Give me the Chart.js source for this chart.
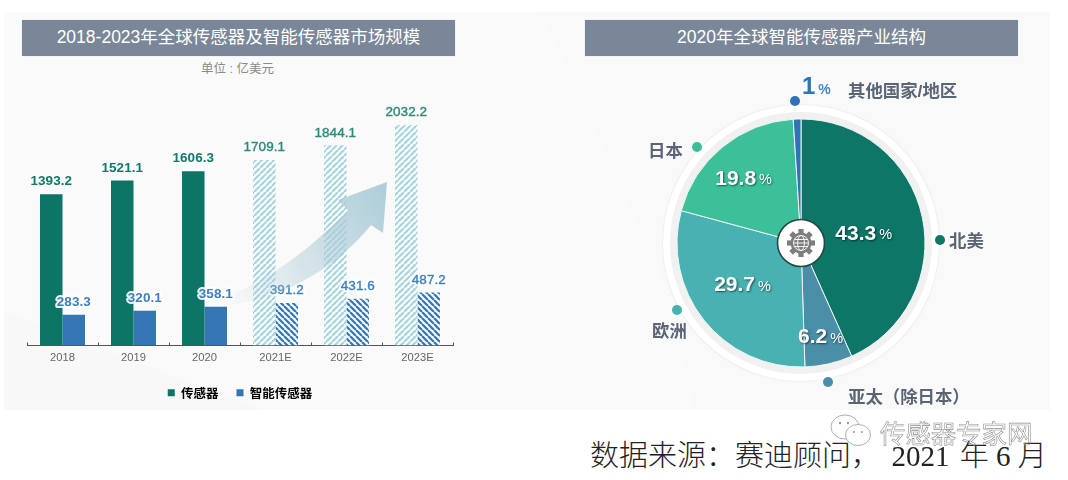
<!DOCTYPE html>
<html lang="zh">
<head>
<meta charset="utf-8">
<title>全球传感器及智能传感器市场</title>
<script src="https://cdn.jsdelivr.net/npm/chart.js@4/dist/chart.umd.min.js"></script>
<style>
  html, body { margin: 0; padding: 0; background: #fff; }
  body { width: 1068px; height: 480px; position: relative; overflow: hidden; font-family: "Liberation Sans", "Noto Sans CJK SC", sans-serif; }
  .abs { position: absolute; }
  #panel { left: 4px; top: 12px; width: 1046px; height: 398px; }
  .titleBar { top: 20px; width: 433px; height: 36px; line-height: 35px; background: #7a8798; color: #fff; text-align: center; font-size: 17.5px; box-shadow: 0 0 1px #c9cedb; }
  #unit { left: 201px; top: 58px; font-size: 12.5px; color: #8a8a8a; white-space: pre; }
  #barCanvas { left: 2px; top: 60px; }
  #arrow { left: 0; top: 0; pointer-events: none; }
  #rings { left: 663px; top: 105px; width: 276px; height: 276px; box-sizing: border-box; border-radius: 50%; background: #f1f1f1; border: 7px solid #fff; box-shadow: 0 0 2px #ddd; }
  #pieCanvas { left: 641px; top: 83px; }
  #hub { left: 776px; top: 218px; }
  .dot { width: 10px; height: 10px; border-radius: 50%; }
  .place { font-size: 17.4px; font-weight: 700; color: #5b6575; white-space: pre; line-height: 20px; }
  #otherShare { left: 802px; top: 71px; font-size: 24px; font-weight: 700; color: #2f74b8; line-height: 30px; white-space: pre; }
  #otherShare small { font-size: 14px; margin-left: 3px; color: #4a86c0; }
  #source { left: 590px; top: 437px; font-family: "Liberation Serif", "Noto Sans CJK SC", serif; font-size: 29px; font-weight: 300; line-height: 38px; color: #222; white-space: pre; }
  #source span { position: relative; left: -3px; }
  #mark { left: 880px; top: 416px; font-size: 25.4px; line-height: 32px; color: transparent; -webkit-text-stroke: 0.6px #8f8f8f; font-family: "Noto Sans CJK SC", sans-serif; white-space: pre; }
  #wechat { left: 826px; top: 412px; }
</style>
</head>
<body>

<svg id="panel" class="abs" viewBox="0 0 1046 398">
  <rect width="1046" height="398" fill="#fafafa"/>
  <polygon points="536,0 1046,0 1046,398 690,398 664,280 570,70" fill="#f9f9f9"/>
  <polygon points="0,300 260,398 0,398" fill="#f8f8f8"/>
</svg>

<div class="abs titleBar" style="left:22px">2018-2023年全球传感器及智能传感器市场规模</div>
<div id="unit" class="abs">单位 : 亿美元</div>
<canvas id="barCanvas" class="abs" width="480" height="349"></canvas>

<svg id="arrow" class="abs" width="480" height="410">
  <defs>
    <linearGradient id="arrowFill" x1="228" y1="305" x2="387" y2="195" gradientUnits="userSpaceOnUse">
      <stop offset="0" stop-color="#b0ced8" stop-opacity="0"/>
      <stop offset="0.45" stop-color="#afcdd8" stop-opacity="0.5"/>
      <stop offset="1" stop-color="#a9ccd7" stop-opacity="0.95"/>
    </linearGradient>
  </defs>
  <path d="M226 297 C265 282 310 250 348 210 L338 200 L387 182 L383 233 L371 225 C345 258 290 300 226 305 Z" fill="url(#arrowFill)"/>
</svg>

<div class="abs titleBar" style="left:585px">2020年全球智能传感器产业结构</div>
<div id="rings" class="abs"></div>
<canvas id="pieCanvas" class="abs" width="320" height="320"></canvas>

<svg id="hub" class="abs" width="50" height="50" viewBox="-25 -25 50 50">
  <circle r="23.5" fill="#fff" stroke="#23483f" stroke-width="1.6"/>
  <g fill="#7d7d7d">
    <circle r="10.5"/>
    <rect x="-2.6" y="-14" width="5.2" height="28"/>
    <rect x="-2.6" y="-14" width="5.2" height="28" transform="rotate(45)"/>
    <rect x="-2.6" y="-14" width="5.2" height="28" transform="rotate(90)"/>
    <rect x="-2.6" y="-14" width="5.2" height="28" transform="rotate(135)"/>
  </g>
  <g fill="none" stroke="#fff" stroke-width="0.9">
    <circle r="7.5"/>
    <ellipse rx="3.4" ry="7.5"/>
    <path d="M-7.5 0H7.5M-6.6 -3.5H6.6M-6.6 3.5H6.6"/>
  </g>
</svg>

<div id="pieNotes"></div>

<div id="source" class="abs">数据来源：赛迪顾问，  <span>2021</span> 年 6 月</div>
<svg id="wechat" class="abs" width="50" height="40" viewBox="0 0 50 40">
  <g fill="#fff" stroke="#9a9a9a" stroke-width="0.8">
    <ellipse cx="19" cy="15" rx="14" ry="12"/>
    <ellipse cx="32" cy="23" rx="12.5" ry="10.5"/>
  </g>
  <g fill="#9a9a9a">
    <circle cx="14" cy="11" r="1.2"/><circle cx="22" cy="11" r="1.2"/>
    <circle cx="28" cy="20" r="1.1"/><circle cx="36" cy="20" r="1.1"/>
  </g>
</svg>
<div id="mark" class="abs">传感器专家网</div>

<script>
"use strict";

// bar chart data (亿美元)
const years = ["2018", "2019", "2020", "2021E", "2022E", "2023E"];
const sensorValues = [1393.2, 1521.1, 1606.3, 1709.1, 1844.1, 2032.2];
const smartValues = [283.3, 320.1, 358.1, 391.2, 431.6, 487.2];
const seriesNames = ["传感器", "智能传感器"];
const firstForecast = 3;

// pie chart data (%)
const regions = ["北美", "亚太（除日本）", "欧洲", "日本", "其他国家/地区"];
const shares = [43.3, 6.2, 29.7, 19.8, 1];

const TEAL = "#0c7566";
const BLUE = "#3475b3";
const pieColors = ["#0d7667", "#4a8ea8", "#48b1b1", "#3cc09a", "#2f72b8"];

// how far out each share sits inside its slice, 0 = written outside the pie
const shareRadius = [60, 96, 72, 86, 0];
const shareNudge = [[4, 4], [-2, 1], [-2, -2], [-3, 3], [0, 0]];
// dot and name around the pie, same order as regions
const notes = [
    { dot: [935, 235], name: [949, 231] },
    { dot: [823, 377], name: [848, 387] },
    { dot: [672, 305], name: [652, 321] },
    { dot: [692, 142], name: [648, 141] },
    { dot: [790, 96], name: [848, 81] }
];

function stripes(color, back, rising) {
    const size = 6;
    const c = document.createElement("canvas");
    c.width = size;
    c.height = size;
    const g = c.getContext("2d");
    g.fillStyle = back;
    g.fillRect(0, 0, size, size);
    g.strokeStyle = color;
    g.lineWidth = 2.2;
    g.beginPath();
    for (let i = -size; i <= size * 2; i += size) {
        if (rising) {
            g.moveTo(i, size);
            g.lineTo(i + size, 0);
        } else {
            g.moveTo(i, 0);
            g.lineTo(i + size, size);
        }
    }
    g.stroke();
    return g.createPattern(c, "repeat");
}

const sensorHatch = stripes("#a5d3e0", "#fdfefe", true);
const smartHatch = stripes("#3475b3", "#f4f8fb", false);

const barLabels = {
    id: "barLabels",
    afterDatasetsDraw(chart) {
        const ctx = chart.ctx;
        ctx.save();
        ctx.textAlign = "center";
        ctx.textBaseline = "middle";
        ctx.lineJoin = "round";
        chart.data.datasets.forEach((ds, d) => {
            chart.getDatasetMeta(d).data.forEach((bar, i) => {
                const forecast = i >= firstForecast;
                const text = ds.data[i].toFixed(1);
                const y = bar.y - 12.5;
                ctx.font = (forecast ? "" : "bold ") + "13.5px 'Liberation Sans'";
                ctx.fillStyle = d === 1 ? "#3f7fbd" : (forecast ? "#2c8a79" : "#0f7a6a");
                if (d === 1) {
                    // white halo so the number stays readable over the teal bar
                    ctx.strokeStyle = "rgba(255,255,255,0.9)";
                    ctx.lineWidth = 4;
                    ctx.strokeText(text, bar.x, y);
                }
                if (forecast) {
                    ctx.strokeStyle = ctx.fillStyle;
                    ctx.lineWidth = 0.4;
                    ctx.strokeText(text, bar.x, y);
                }
                ctx.fillText(text, bar.x, y);
            });
        });
        ctx.restore();
    }
};

// the axis in the picture has its tick marks standing up from the line
const upTicks = {
    id: "upTicks",
    afterDatasetsDraw(chart) {
        const x = chart.scales.x;
        const ctx = chart.ctx;
        const step = x.width / years.length;
        ctx.save();
        ctx.strokeStyle = "#555";
        ctx.lineWidth = 1;
        ctx.beginPath();
        for (let i = 0; i <= years.length; i++) {
            const px = Math.round(x.left + step * i) + 0.5;
            ctx.moveTo(px, x.top);
            ctx.lineTo(px, x.top - 3);
        }
        ctx.stroke();
        ctx.restore();
    }
};

new Chart(document.getElementById("barCanvas"), {
    type: "bar",
    data: {
        labels: years,
        datasets: [
            {
                label: seriesNames[0],
                data: sensorValues,
                backgroundColor: c => c.dataIndex >= firstForecast ? sensorHatch : TEAL
            },
            {
                label: seriesNames[1],
                data: smartValues,
                backgroundColor: c => c.dataIndex >= firstForecast ? smartHatch : BLUE
            }
        ]
    },
    options: {
        responsive: false,
        animation: false,
        devicePixelRatio: 1,
        categoryPercentage: 0.634,
        barPercentage: 1,
        layout: { padding: { left: 25, right: 29, top: 25, bottom: 0 } },
        plugins: {
            tooltip: { enabled: false },
            legend: {
                position: "bottom",
                labels: {
                    boxWidth: 7,
                    boxHeight: 7,
                    padding: 18,
                    color: "#666",
                    font: { family: "'Noto Sans CJK SC'", size: 12.5, weight: "bold" },
                    generateLabels: () => [
                        { text: seriesNames[0], fillStyle: TEAL, lineWidth: 0, datasetIndex: 0 },
                        { text: seriesNames[1], fillStyle: BLUE, lineWidth: 0, datasetIndex: 1 }
                    ]
                }
            }
        },
        scales: {
            x: {
                grid: { display: false, drawTicks: false },
                border: { color: "#555", width: 1 },
                ticks: { color: "#666", padding: 6, font: { family: "'Liberation Sans'", size: 11.2 } },
                afterFit: s => { s.height = 23; }
            },
            y: { display: false, min: 0, max: 2400 }
        }
    },
    plugins: [barLabels, upTicks]
});

const shareLabels = {
    id: "shareLabels",
    afterDatasetsDraw(chart) {
        const ctx = chart.ctx;
        ctx.save();
        ctx.textBaseline = "middle";
        ctx.fillStyle = "#fff";
        ctx.shadowColor = "rgba(0,0,0,0.55)";
        ctx.shadowBlur = 2;
        ctx.shadowOffsetX = 1;
        ctx.shadowOffsetY = 1;
        chart.getDatasetMeta(0).data.forEach((arc, i) => {
            if (!shareRadius[i]) return;
            const mid = (arc.startAngle + arc.endAngle) / 2;
            const cx = arc.x + Math.cos(mid) * shareRadius[i] + shareNudge[i][0];
            const cy = arc.y + Math.sin(mid) * shareRadius[i] + shareNudge[i][1];
            const num = shares[i].toFixed(1);
            const numFont = "bold 21px 'Liberation Sans'";
            const pctFont = "14.5px 'Liberation Sans'";
            ctx.font = numFont;
            const w1 = ctx.measureText(num).width;
            ctx.font = pctFont;
            const w2 = ctx.measureText("%").width;
            const left = cx - (w1 + 3 + w2) / 2;
            ctx.textAlign = "left";
            ctx.font = numFont;
            ctx.fillText(num, left, cy);
            ctx.font = pctFont;
            ctx.fillText("%", left + w1 + 3, cy + 1);
        });
        ctx.restore();
    }
};

new Chart(document.getElementById("pieCanvas"), {
    type: "pie",
    data: {
        labels: regions,
        datasets: [{
            data: shares,
            backgroundColor: pieColors,
            borderColor: "#eef5f3",
            borderWidth: 1,
            radius: 124
        }]
    },
    options: {
        responsive: false,
        animation: false,
        devicePixelRatio: 1,
        plugins: { legend: { display: false }, tooltip: { enabled: false } }
    },
    plugins: [shareLabels]
});

// names, dots and the one share written outside the pie
const noteBox = document.getElementById("pieNotes");
notes.forEach((n, i) => {
    const dot = document.createElement("div");
    dot.className = "abs dot";
    dot.style.left = n.dot[0] + "px";
    dot.style.top = n.dot[1] + "px";
    dot.style.background = pieColors[i];
    noteBox.appendChild(dot);

    const name = document.createElement("div");
    name.className = "abs place";
    name.style.left = n.name[0] + "px";
    name.style.top = n.name[1] + "px";
    name.textContent = regions[i];
    noteBox.appendChild(name);
});
const other = document.createElement("div");
other.id = "otherShare";
other.className = "abs";
other.innerHTML = shares[4] + "<small>%</small>";
noteBox.appendChild(other);
</script>
</body>
</html>
